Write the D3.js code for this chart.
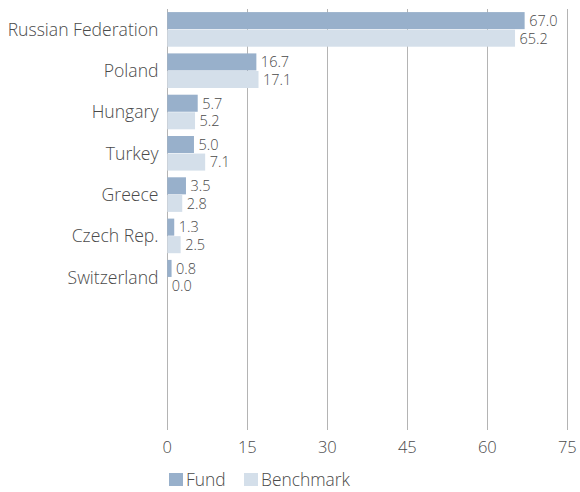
<!DOCTYPE html>
<html><head><meta charset="utf-8">
<script src="https://cdn.jsdelivr.net/npm/d3@7"></script>
<style>body{margin:0;background:#fff;} text{font-family:"Open Sans",sans-serif;fill:#4a4a4a;font-weight:300;}</style>
</head><body>
<svg id="c" width="580" height="492"></svg>
<script>
const categories = ["Russian Federation","Poland","Hungary","Turkey","Greece","Czech Rep.","Switzerland"];
const fund = [67.0,16.7,5.7,5.0,3.5,1.3,0.8];
const benchmark = [65.2,17.1,5.2,7.1,2.8,2.5,0.0];
const xTicks = [0,15,30,45,60,75];
const seriesNames = ["Fund","Benchmark"];
const colors = ["#98b0cb","#d4dfea"];

(function(){
const svg = d3.select("#c");
const x = d3.scaleLinear().domain([0,75]).range([167.3,567.3]);
const step = 41.3, plotTop = 9, plotBottom = 430;
const y = d3.scaleBand().domain(categories).range([plotTop, plotTop+categories.length*step]).paddingInner(0.15).paddingOuter(0.075);
const sub = d3.scaleBand().domain(seriesNames).range([0,y.bandwidth()]);

svg.append("g").selectAll("line").data(xTicks).join("line")
  .attr("x1",d=>Math.round(x(d))+0.5).attr("x2",d=>Math.round(x(d))+0.5)
  .attr("y1",plotTop).attr("y2",plotBottom).attr("stroke","#b4b4b4").attr("stroke-width",1);

svg.append("g").selectAll("text").data(xTicks).join("text")
  .attr("x",d=>x(d)).attr("y",447).attr("dy","0.35em").attr("text-anchor","middle")
  .style("font-size","16.5px").text(d=>d);

const series = [fund, benchmark];
series.forEach((vals,si)=>{
  const g = svg.append("g");
  g.selectAll("rect").data(categories).join("rect")
    .attr("x",x(0)).attr("y",(d)=>y(d)+sub(seriesNames[si]))
    .attr("width",(d,i)=>x(vals[i])-x(0)).attr("height",sub.bandwidth()-0.5)
    .attr("fill",colors[si]);
  g.selectAll("text").data(categories).join("text")
    .attr("x",(d,i)=>x(vals[i])+4.5).attr("y",d=>y(d)+sub(seriesNames[si])+sub.bandwidth()/2)
    .attr("dy","0.35em").style("font-size","14.5px").text((d,i)=>vals[i].toFixed(1));
});

svg.append("g").selectAll("text").data(categories).join("text")
  .attr("x",158.5).attr("y",d=>y(d)+y.bandwidth()/2).attr("dy","0.35em")
  .attr("text-anchor","end").style("font-size","17.6px").text(d=>d);

const lx = [169,244];
seriesNames.forEach((n,i)=>{
  svg.append("rect").attr("x",lx[i]).attr("y",473).attr("width",14).attr("height",13).attr("fill",colors[i]);
  svg.append("text").attr("x",lx[i]+17).attr("y",480).attr("dy","0.35em").style("font-size","17.4px").text(n);
});
})();
</script>
</body></html>
